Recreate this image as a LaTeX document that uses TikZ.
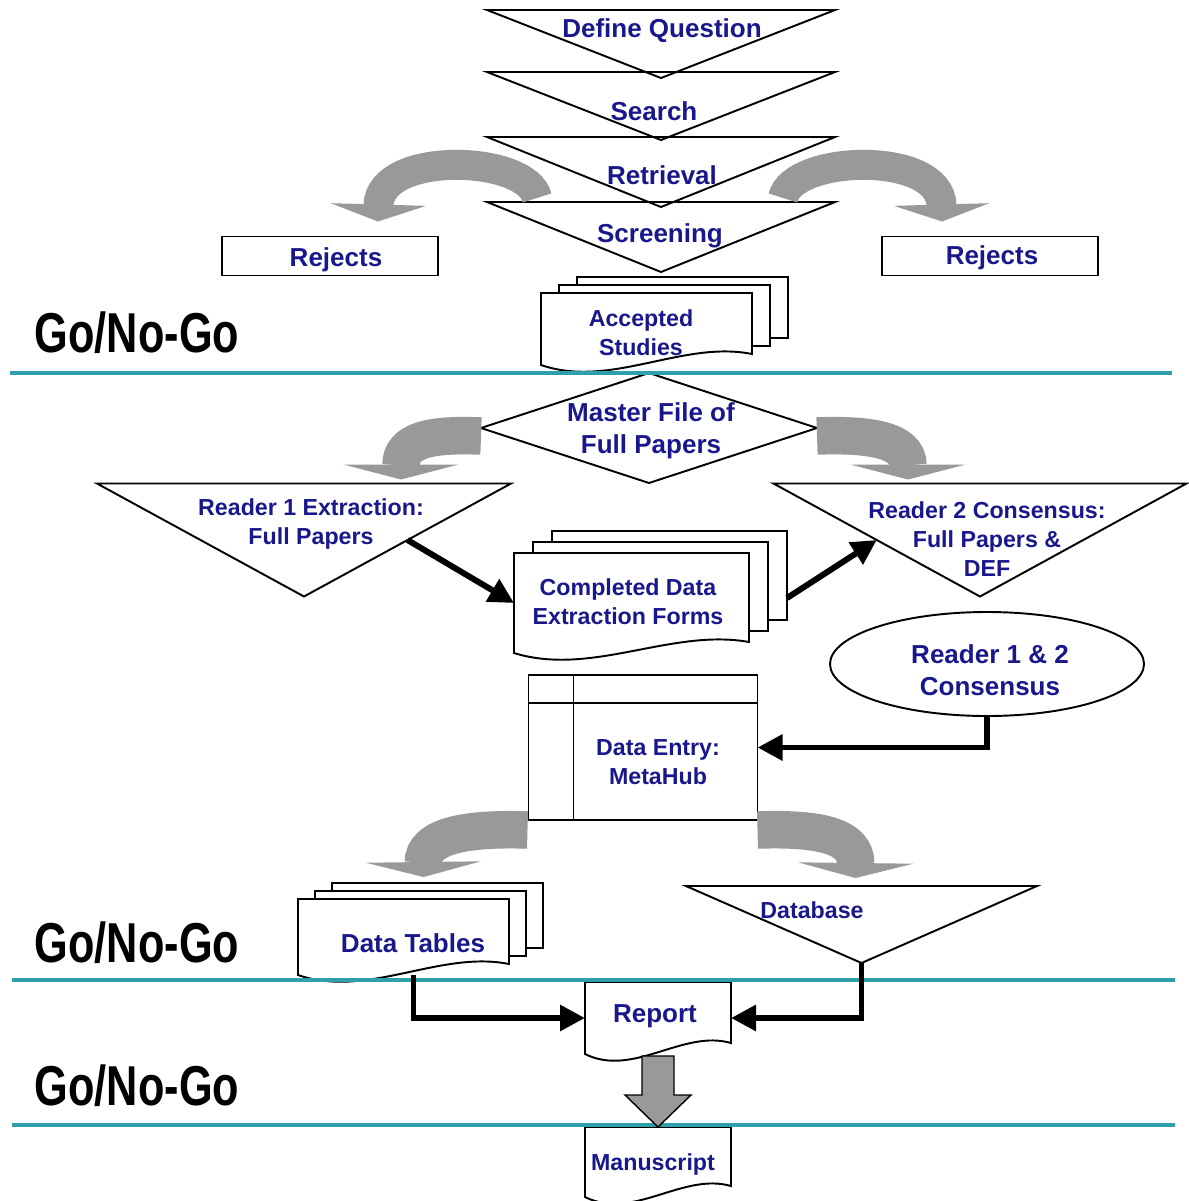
\documentclass[tikz,border=0pt]{standalone}
\usepackage{fontspec}
\setmainfont{Liberation Sans}
\newfontfamily\gofont{Liberation Sans}[FakeStretch=0.77]
\usepackage{tikz}
\usetikzlibrary{shapes.geometric,arrows.meta,calc}

\definecolor{navy}{RGB}{24,24,140}
\definecolor{gateteal}{RGB}{45,160,170}
\definecolor{flowgray}{RGB}{153,153,153}

% downward funnel drawn over an empty node
\newcommand{\funnel}[1]{\draw[outline] (#1.north west) -- (#1.north east) -- (#1.south) -- cycle;}
% document sheet with a wavy lower edge
\newcommand{\paperdoc}[1]{\draw[outline,fill=white] (#1.south west) -- (#1.north west) -- (#1.north east) -- ($(#1.south east)+(0,-11)$)
  .. controls ($(#1.south west)!0.67!(#1.south east)+(0,-25)$) and ($(#1.south west)!0.33!(#1.south east)+(0,24)$) .. (#1.south west) -- cycle;}
% stack of three sheets, #2/#3 = shift per sheet
\newcommand{\paperstack}[3]{%
  \foreach \k in {2,1}{\draw[outline,fill=white] ($(#1.north west)+(\k*#2,-\k*#3)$) rectangle ($(#1.south east)+(\k*#2,-11-\k*#3)$);}
  \paperdoc{#1}}

\begin{document}
\begin{tikzpicture}[x=0.02cm,y=-0.02cm,
  lbl/.style={font=\bfseries\fontsize{14.8}{18.2}\selectfont,text=navy,align=center,inner sep=0},
  lblsm/.style={lbl,font=\bfseries\fontsize{13.2}{16.4}\selectfont},
  gonogo/.style={font=\gofont\bfseries\fontsize{32}{36}\selectfont,inner sep=0},
  shapebox/.style 2 args={minimum width=#1*0.02cm,minimum height=#2*0.02cm,inner sep=0,outer sep=0},
  outline/.style={draw=black,line width=1.1pt},
  rejbox/.style={rectangle,outline,shapebox={216}{39}},
  gate/.style={draw=gateteal,line width=2.8pt},
  curvy/.style={draw=flowgray,line width=0.6cm,-{Triangle[length=0.34cm,width=1.9cm]}},
  curvywide/.style={draw=flowgray,line width=0.75cm,-{Triangle[length=0.3cm,width=2.3cm]}},
  flow/.style={draw=black,line width=3.4pt,-{Triangle[length=0.5cm,width=0.5cm]}},
  block/.style={draw=black,line width=0.8pt,fill=flowgray}]
\useasboundingbox (0,0) rectangle (1188,1201);

% search and screening
\node[shapebox={348}{68}] (q1) at (661,44) {};
\node[shapebox={348}{68}] (q2) at (661,106) {};
\node[shapebox={348}{70}] (q3) at (661,172) {};
\node[shapebox={348}{70}] (q4) at (661,237) {};
\foreach \n in {q1,q2,q3,q4}{\funnel{\n}}
\node[lbl] (q1t) at (662,31) {Define Question};
\node[lbl] (q2t) at (654,111) {Search};
\node[lbl] (q3t) at (662,175) {Retrieval};
\node[lbl] (q4t) at (660,236) {Screening};
\node[rejbox] (rejl) at (330,256) {};
\node[rejbox] (rejr) at (990,256) {};
\node[lbl] (rejlt) at (336,260) {Rejects};
\node[lbl] (rejrt) at (992,258) {Rejects};
\draw[curvy] ($(q4.north west)+(50,-4)$) .. controls (528,155) and (380,150) .. ($(rejl.north)+(48,-15)$);
\draw[curvy] ($(q4.north east)+(-52,-4)$) .. controls (792,155) and (940,150) .. ($(rejr.north)+(-48,-15)$);
\node[shapebox={211}{72}] (acc) at (646.5,329) {};
\paperstack{acc}{18}{8}
\node[lblsm] (acct) at (641,333) {Accepted\\Studies};

% extraction
\node[diamond,outline,shapebox={336}{110}] (master) at (649,428) {};
\node[lbl] (mastert) at (651,431) {Master File of\\Full Papers};
\node[shapebox={414}{113}] (r1) at (304,540) {};
\node[shapebox={413}{113}] (r2) at (980,540) {};
\funnel{r1} \funnel{r2}
\node[lblsm] (r1t) at (311,524) {Reader 1 Extraction:\\Full Papers};
\node[lblsm] (r2t) at (987,539) {Reader 2 Consensus:\\Full Papers \&\\DEF};
\draw[curvywide] ($(master.west)+(0,8)$) .. controls (430,434) and (401,440) .. ($(r1.north)+(97,-4)$);
\draw[curvywide] ($(master.east)+(0,8)$) .. controls (870,434) and (908,440) .. ($(r2.north)+(-72,-4)$);
\node[shapebox={235}{100}] (forms) at (631.5,603) {};
\paperstack{forms}{19}{11}
\node[lblsm] (formst) at (628,602) {Completed Data\\Extraction Forms};
\node[ellipse,outline,shapebox={314}{104}] (cons) at (987,664) {};
\node[lbl] (const) at (990,670) {Reader 1 \& 2\\Consensus};

% data entry
\node[rectangle,outline,shapebox={229}{145}] (entry) at (643,747.5) {};
\draw[outline] ($(entry.north west)+(0,28)$) -- ($(entry.north east)+(0,28)$);
\draw[outline] ($(entry.north west)+(45,0)$) -- ($(entry.south west)+(45,0)$);
\node[lblsm] (entryt) at (658,762) {Data Entry:\\MetaHub};
\node[shapebox={211}{76}] (tables) at (403.5,937) {};
\node[shapebox={351}{77}] (db) at (861.5,924.5) {};
\draw[curvywide] ($(entry.south west)+(-1,10)$) .. controls (465,828) and (423,836) .. ($(tables.north)+(20,-22)$);
\draw[curvywide] ($(entry.south east)+(0,10)$) .. controls (820,828) and (856,836) .. ($(db.north)+(-6,-8)$);
\paperstack{tables}{17}{8}
\node[lbl] (tablest) at (413,943) {Data Tables};
\funnel{db}
\node[lblsm] (dbt) at (812,910) {Database};

% reporting
\node[shapebox={146}{72}] (report) at (658,1018) {};
\paperdoc{report}
\node[lbl] (reportt) at (655,1016) {Report};
\node[shapebox={146}{70}] (manu) at (658,1162) {};
\paperdoc{manu}
\node[lblsm] (manut) at (653,1164) {Manuscript};

\node[gonogo] (gate1) at (137,333) {Go/No-Go};
\node[gonogo] (gate2) at (137,943) {Go/No-Go};
\node[gonogo] (gate3) at (137,1086) {Go/No-Go};
\draw[gate] (10,373) -- (1172,373);
\draw[gate] (12,980) -- (1175,980);
\draw[gate] (12,1125) -- (1175,1125);

\draw[flow] ($(r1.north east)!0.5!(r1.south)$) -- (forms.west);
\draw[flow] ($(forms.east)+(38,-5)$) -- ($(r2.north west)!0.5!(r2.south)$);
\draw[flow] (cons.south) |- (entry.east);
\draw[flow] ($(tables.south)+(10,0)$) |- (report.west);
\draw[flow] (db.south) |- (report.east);
\draw[block] ($(report.south)+(-16,2)$) -- ($(report.south)+(16,2)$) -- ($(manu.north)+(16,-32)$) -- ($(manu.north)+(33,-32)$)
  -- (manu.north) -- ($(manu.north)+(-33,-32)$) -- ($(manu.north)+(-16,-32)$) -- cycle;
\end{tikzpicture}
\end{document}
